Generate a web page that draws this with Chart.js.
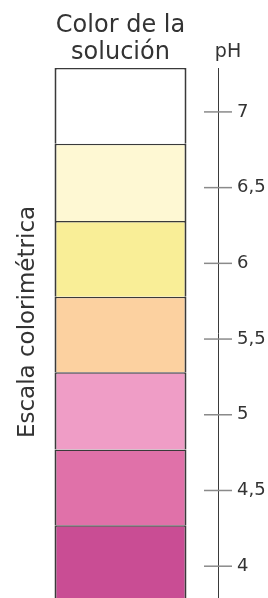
<!DOCTYPE html>
<html>
<head>
<meta charset="utf-8">
<script src="https://cdn.jsdelivr.net/npm/chart.js@4/dist/chart.umd.min.js"></script>
<style>
  html, body { margin: 0; padding: 0; background: #fff; }
  #wrap { width: 268px; height: 598px; }
</style>
</head>
<body>
<div id="wrap"><canvas id="ph_chart"></canvas></div>
<script>
// Chart data
var titleLines = ['Color de la', 'solución'];
var sideTitle = 'Escala colorimétrica';
var axisTitle = 'pH';
var phTicks = [4, 4.5, 5, 5.5, 6, 6.5, 7];
var phMin = 3.79;
var phMax = 7.29;
// colour bands, top to bottom: [low pH, high pH]
var bandRanges = [[6.79, 7.29], [6.28, 6.79], [5.78, 6.28], [5.28, 5.78], [4.77, 5.28], [4.27, 4.77], [3.79, 4.27]];
var bandColors = ['#FFFFFF', '#FEF8D3', '#F9EE97', '#FCD1A0', '#EF9DC6', '#E071A9', '#C94D94'];

var textColor = '#333333';
var lineColor = '#3a3a3a';
var tickColor = '#8a8a8a';
var fontFamily = '"DejaVu Sans", sans-serif';

// Tick marks crossing the axis line, the "pH" label and the side title
var axisExtras = {
  id: 'axisExtras',
  afterDraw: function (chart) {
    var s = chart.scales.y;
    var area = chart.chartArea;
    var ctx = chart.ctx;
    ctx.save();
    ctx.strokeStyle = tickColor;
    ctx.lineWidth = 1.5;
    s.ticks.forEach(function (t) {
      var py = s.getPixelForValue(t.value);
      ctx.beginPath();
      ctx.moveTo(s.left - 14, py);
      ctx.lineTo(s.left + 14, py);
      ctx.stroke();
    });

    ctx.fillStyle = textColor;
    ctx.font = '19px ' + fontFamily;
    ctx.textAlign = 'center';
    ctx.textBaseline = 'alphabetic';
    ctx.fillText(axisTitle, s.left + 10, area.top - 11);

    // rotated title on the left
    ctx.font = '23px ' + fontFamily;
    ctx.textBaseline = 'middle';
    ctx.translate(area.left + 5, area.top + 254);
    ctx.rotate(-Math.PI / 2);
    ctx.fillText(sideTitle, 0, 0);
    ctx.restore();
  }
};

var datasets = bandRanges.map(function (r, i) {
  return {
    label: 'band ' + i,
    data: [r],
    backgroundColor: bandColors[i],
    borderColor: lineColor,
    borderWidth: { top: 1.5, right: 2, bottom: 0, left: 2 },
    borderSkipped: false,
    barPercentage: 1,
    categoryPercentage: 0.677,
    yAxisID: 'y',
    clip: false
  };
});

Chart.defaults.font.family = fontFamily;

var ctx = document.getElementById('ph_chart');
var myChart = new Chart(ctx, {
  type: 'bar',
  data: { labels: ['solución'], datasets: datasets },
  options: {
    responsive: true,
    maintainAspectRatio: false,
    animation: false,
    layout: { padding: { left: 23, top: 0, right: 0, bottom: 0 } },
    plugins: {
      legend: { display: false },
      tooltip: { enabled: false },
      title: {
        display: true,
        text: titleLines,
        fullSize: false,
        color: textColor,
        font: { size: 24, weight: 'normal', lineHeight: 1.125 },
        padding: { top: 12, bottom: 2 }
      }
    },
    scales: {
      x: { display: false, stacked: true },
      y: {
        type: 'linear',
        position: 'right',
        min: phMin,
        max: phMax,
        afterBuildTicks: function (scale) {
          scale.ticks = phTicks.map(function (v) { return { value: v }; });
        },
        afterFit: function (scale) {
          scale.width = 50;
          scale.paddingTop = 0;
          scale.paddingBottom = 0;
        },
        border: { display: true, color: lineColor, width: 1 },
        grid: { drawOnChartArea: false, drawTicks: true, tickLength: 14, color: 'rgba(0,0,0,0)' },
        ticks: {
          padding: 5,
          color: textColor,
          font: { size: 18 },
          callback: function (v) { return String(v).replace('.', ','); }
        }
      }
    }
  },
  plugins: [axisExtras]
});
</script>
</body>
</html>
